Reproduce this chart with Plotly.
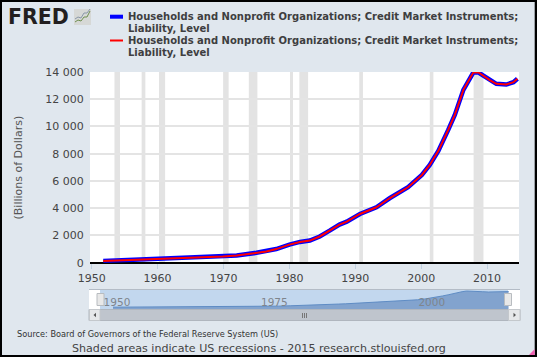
import plotly.graph_objects as go

series_line_1 = "Households and Nonprofit Organizations; Credit Market Instruments;"
series_line_2 = "Liability, Level"
years = [1951.75,1954.8,1959.8,1964.9,1969.9,1972,1975,1976.5,1978,1980,1981.6,1983.1,1984.6,1986.1,1987.6,1988.7,1990.7,1993.2,1995.2,1998,2000.1,2001.3,2002.6,2004.1,2005.1,2006.4,2007.2,2007.9,2008.7,2009.4,2010.4,2011.4,2012.9,2014,2014.6]
debt = [125,175,250,375,450,525,725,825,1000,1325,1525,1625,1925,2350,2800,3010,3575,4070,4730,5540,6440,7180,8210,9750,10850,12690,13400,13960,13960,13720,13400,13130,13080,13250,13500]
recession_starts = [1953.45,1957.58,1960.21,1969.94,1973.84,1980.09,1981.51,1990.6,2001.3,2007.95]
recession_ends = [1954.29,1958.14,1961.14,1970.78,1975.14,1980.54,1982.84,1991.16,2001.85,2009.45]
y_ticks = [0,2000,4000,6000,8000,10000,12000,14000]
x_ticks = [1950,1960,1970,1980,1990,2000,2010]
nav_ticks = [1950,1975,2000]
source_text = "Source: Board of Governors of the Federal Reserve System (US)"
footer_text = "Shaded areas indicate US recessions - 2015 research.stlouisfed.org"
y_title = "(Billions of Dollars)"

W, H = 537, 357
BG = "#e0e7ee"
FONT = "DejaVu Sans"
def fx(p): return p / W
def fy(p): return 1 - p / H

NAV_LOW, NAV_HIGH = -1880, 15280
series_name = series_line_1 + " " + series_line_2
fig = go.Figure()
fig.add_trace(go.Scatter(x=years, y=debt, mode="lines", line=dict(color="#0000ff", width=4.5), name=series_name, showlegend=False, hoverinfo="skip"))
fig.add_trace(go.Scatter(x=years, y=debt, mode="lines", line=dict(color="#ff0000", width=2), name=series_name, showlegend=False, hoverinfo="skip"))
fig.add_trace(go.Scatter(x=years, y=[NAV_LOW]*len(years), mode="lines", line=dict(width=0), xaxis="x2", yaxis="y2", showlegend=False, hoverinfo="skip"))
fig.add_trace(go.Scatter(x=years, y=debt, mode="lines", line=dict(color="#5f8cc4", width=1), fill="tonexty", fillcolor="rgba(90,130,185,0.62)", xaxis="x2", yaxis="y2", showlegend=False, hoverinfo="skip"))

def rect(x0, y0, x1, y1, fill, line=None, lw=1, layer="above"):
    return dict(type="rect", xref="paper", yref="paper", x0=fx(x0), x1=fx(x1), y0=fy(y0), y1=fy(y1), fillcolor=fill, line=dict(color=line or fill, width=lw if line else 0), layer=layer)
def seg(x0, y0, x1, y1, color, lw=1):
    return dict(type="line", xref="paper", yref="paper", x0=fx(x0), x1=fx(x1), y0=fy(y0), y1=fy(y1), line=dict(color=color, width=lw))
def poly(points, color, lw=1, fill=None):
    d = " ".join(("M" if i == 0 else "L") + f" {fx(px)} {fy(py)}" for i, (px, py) in enumerate(points))
    if fill:
        return dict(type="path", xref="paper", yref="paper", path=d + " Z", fillcolor=fill, line=dict(width=0))
    return dict(type="path", xref="paper", yref="paper", path=d, line=dict(color=color, width=lw))

shapes = []
for a, b in zip(recession_starts, recession_ends):
    shapes.append(dict(type="rect", xref="x", yref="y", x0=a, x1=b, y0=0, y1=14000, fillcolor="#e3e3e3", line=dict(width=0), layer="below"))
shapes += [
    # navigator chrome
    rect(100, 289.5, 508, 309.5, "#c2d7ee", layer="below"),
    seg(89, 289.5, 520, 289.5, "#b4bcc6", 1),
    rect(89, 309.5, 520, 320.5, "#bfc5cd", "#b0b6be", 1),
    rect(89.5, 309.5, 100, 320.5, "#e6e8ea", "#c4c8cc", 1),
    rect(508.5, 309.5, 520, 320.5, "#e6e8ea", "#c4c8cc", 1),
    rect(97, 293.5, 104, 305.5, "#e8e8e8", "#b8bcc0", 1),
    rect(504.5, 293.5, 511.5, 305.5, "#e8e8e8", "#b8bcc0", 1),
    poly([(93.5, 315), (96, 312.8), (96, 317.2)], None, fill="#555555"),
    poly([(516, 315), (513.5, 312.8), (513.5, 317.2)], None, fill="#555555"),
    seg(302.5, 313, 302.5, 318, "#777777", 1), seg(304.5, 313, 304.5, 318, "#777777", 1), seg(306.5, 313, 306.5, 318, "#777777", 1),
    # legend keys
    seg(110, 16.7, 123, 16.7, "#0000ff", 4),
    seg(110, 40.5, 123, 40.5, "#ff0000", 2),
    # logo icon
    rect(74, 9, 91, 25, "#d6d8d6"),
    poly([(75,19),(78,17),(81,18),(84,13),(87,13),(90,9)], "#8a98a8", 1),
    poly([(75,22),(78,20),(81,21),(84,17),(87,17),(90,11)], "#6f8f50", 1),
    # frame
    rect(0, 0, 537, 2, "#000000"), rect(0, 355, 537, 357, "#000000"),
    rect(0, 0, 2, 357, "#000000"), rect(534.7, 0, 537, 357, "#000000"),
    poly([(534.7, 349), (534.7, 355), (529, 355)], None, fill="#f060b0"),
]

def note(text, x, y, size, color="#333333", family=FONT, anchor="left", bold=False, **kw):
    return dict(text=f"<b>{text}</b>" if bold else text, xref="paper", yref="paper", x=fx(x), y=fy(y), xanchor=anchor, yanchor="middle", showarrow=False, align="left", font=dict(family=family, size=size, color=color), **kw)

annotations = [
    note("FRED", 6, 17, 20.5, "#231f20", FONT, bold=True),
    note(series_line_1, 125.5, 16.7, 10, "#3e3e40", bold=True),
    note(series_line_2, 125.5, 28.5, 10, "#3e3e40", bold=True),
    note(series_line_1, 125.5, 40.5, 10, "#3e3e40", bold=True),
    note(series_line_2, 125.5, 52.5, 10, "#3e3e40", bold=True),
    note(source_text, 15, 334.3, 8.2, "#333333"),
    note(footer_text, 70, 348.3, 11.1, "#444444"),
    note(y_title, 17.5, 168, 11, "#555555", textangle=-90, anchor="center"),
]

fig.update_layout(
    width=W, height=H, margin=dict(l=0, r=0, t=0, b=0, pad=0), autosize=False,
    paper_bgcolor=BG, plot_bgcolor="#ffffff", separators=". ", showlegend=False,
    shapes=shapes, annotations=annotations,
    xaxis=dict(automargin=False, domain=[fx(90), fx(519)], range=[1949.74, 2014.84], tickvals=x_ticks, showgrid=False, zeroline=False, ticks="outside", ticklen=5, tickwidth=1, tickcolor="#c0d0e0", tickfont=dict(family=FONT, size=11, color="#444444"), showline=False),
    yaxis=dict(automargin=False, domain=[fy(262.7), fy(72)], range=[0, 14000], tickvals=y_ticks, tickformat=",d", gridcolor="#e4e4e4", gridwidth=1.5, zeroline=True, zerolinecolor="#000000", zerolinewidth=2, ticks="outside", ticklen=3, tickcolor=BG, tickfont=dict(family=FONT, size=11, color="#444444")),
    xaxis2=dict(automargin=False, domain=[fx(89), fx(520)], range=[1947.94, 2016.4], anchor="y2", tickvals=nav_ticks, ticklabelposition="inside", ticklabelshift=15, ticklabelstandoff=-2, showgrid=False, zeroline=False, ticks="", tickfont=dict(family=FONT, size=10.5, color="#7f858c")),
    yaxis2=dict(automargin=False, domain=[fy(309.5), fy(289.5)], range=[NAV_LOW, NAV_HIGH], visible=False, fixedrange=True),
)
fig.write_html("out.html", config=dict(displayModeBar=False), post_script="document.body.style.margin='0';document.body.style.overflow='hidden';")
